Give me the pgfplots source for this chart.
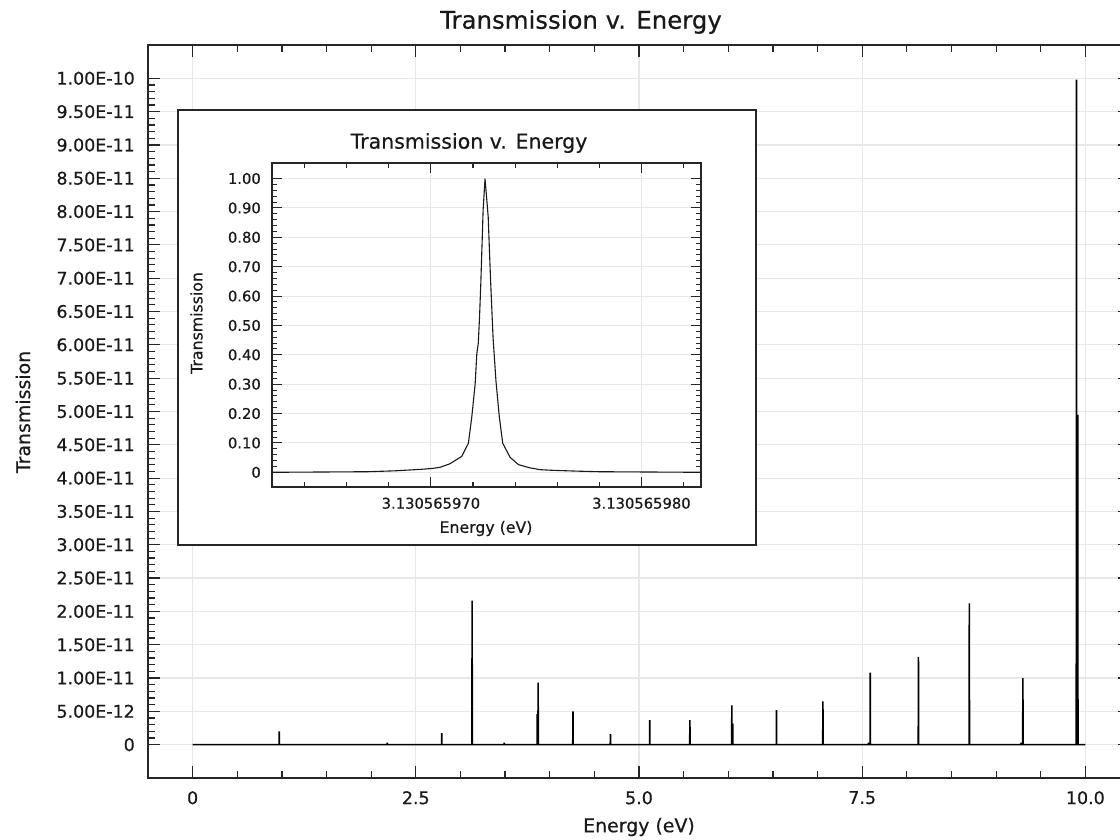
\documentclass[border=0pt]{standalone}
\usepackage{pgfplots}
\usepackage{pgfplotstable}
\pgfplotsset{compat=1.18}
\usepackage{fontspec}
\setmainfont[FakeBold=0.5]{DejaVu Sans}

% Transmission spectrum over the full energy window (resonance needles on a zero baseline)
\pgfplotstableread{
E h
0 0
0.968 0
0.970 2.0e-12
0.972 0
2.178 0
2.180 3e-13
2.182 0
2.788 0
2.790 1.75e-12
2.792 0
3.1286 0
3.1306 2.16e-11
3.1326 0
3.488 0
3.490 3e-13
3.492 0
3.858 0
3.860 4.6e-12
3.862 0
3.868 0
3.870 9.33e-12
3.872 0
4.258 0
4.260 4.98e-12
4.262 0
4.678 0
4.680 1.6e-12
4.682 0
5.118 0
5.120 3.7e-12
5.122 0
5.568 0
5.570 3.7e-12
5.572 0
6.038 0
6.040 5.88e-12
6.042 0
6.048 0
6.050 3.14e-12
6.052 0
6.538 0
6.540 5.19e-12
6.542 0
7.058 0
7.060 6.49e-12
7.062 0
7.568 0
7.570 3e-13
7.572 0
7.588 0
7.590 1.082e-11
7.592 0
8.128 0
8.130 1.317e-11
8.132 0
8.698 0
8.700 2.121e-11
8.702 0
9.278 0
9.280 3e-13
9.282 0
9.298 0
9.300 9.98e-12
9.302 0
9.898 0
9.900 9.98e-11
9.902 0
9.913 0
9.915 4.95e-11
9.917 0
10 0
}\spectrum

% Zoom on the 3.1306 eV resonance; x is the offset from 3.130565970 eV in units of 1e-9 eV
\pgfplotstableread{
dE T
-7.55 0.000
-3.00 0.002
-1.72 0.005
-0.49 0.010
0.04 0.013
0.43 0.017
0.90 0.029
1.46 0.054
1.78 0.099
1.94 0.188
2.10 0.300
2.18 0.404
2.25 0.440
2.31 0.530
2.37 0.644
2.48 0.894
2.57 1.000
2.72 0.870
2.83 0.660
2.95 0.460
3.09 0.310
3.25 0.188
3.41 0.099
3.76 0.051
4.16 0.026
4.71 0.015
5.19 0.009
5.69 0.007
6.92 0.004
8.00 0.002
12.83 0.000
}\resonance

\begin{document}
\begin{tikzpicture}[x=1bp,y=1bp]
\useasboundingbox (0,0) rectangle (1120,840);

\begin{axis}[
  at={(148bp,62bp)}, anchor=south west, scale only axis,
  width=982bp, height=733bp,
  xmin=-0.5, xmax=10.5, ymin=-5e-12, ymax=1.05e-10,
  xtick={0,2.5,5,7.5,10}, xticklabels={0,2.5,5.0,7.5,10.0},
  minor x tick num=4,
  ytick={0,5e-12,1e-11,1.5e-11,2e-11,2.5e-11,3e-11,3.5e-11,4e-11,4.5e-11,5e-11,5.5e-11,6e-11,6.5e-11,7e-11,7.5e-11,8e-11,8.5e-11,9e-11,9.5e-11,1e-10},
  yticklabels={0,5.00E-12,1.00E-11,1.50E-11,2.00E-11,2.50E-11,3.00E-11,3.50E-11,4.00E-11,4.50E-11,5.00E-11,5.50E-11,6.00E-11,6.50E-11,7.00E-11,7.50E-11,8.00E-11,8.50E-11,9.00E-11,9.50E-11,1.00E-10},
  minor y tick num=4,
  scaled x ticks=false, scaled y ticks=false,
  grid=major, major grid style={draw=black!9, line width=1.2bp},
  axis line style={draw=black!85, line width=1.6bp},
  tick align=inside,
  major tick length=12bp, minor tick length=7bp,
  tick style={draw=black!85, line width=1.2bp},
  tick label style={font=\fontsize{17.5}{20}\selectfont, text=black!90},
  yticklabel style={inner sep=0pt, xshift=-13bp},
  xticklabel style={inner sep=0pt, yshift=-13bp},
]
\addplot[black, line width=1.6bp, line join=bevel, mark=none] table[x=E, y=h] {\spectrum};
\end{axis}

\node[font=\fontsize{24.5}{28}\selectfont, text=black!90] at (581,818) {Transmission v. Energy};
\node[font=\fontsize{19}{22}\selectfont, text=black!90] at (639,13) {Energy (eV)};
\node[font=\fontsize{19}{22}\selectfont, text=black!90, rotate=90] at (23,428) {Transmission};

% inset panel
\draw[fill=white, draw=black!85, line width=2bp] (178,295) rectangle (756,730);

\begin{axis}[
  at={(272bp,353bp)}, anchor=south west, scale only axis,
  width=429bp, height=324bp,
  xmin=-7.55, xmax=12.83, ymin=-0.05, ymax=1.053,
  xtick={0,10}, xticklabels={3.130565970,3.130565980},
  minor xtick={-6,-4,-2,2,4,6,8,12},
  ytick={0,0.1,0.2,0.3,0.4,0.5,0.6,0.7,0.8,0.9,1.0},
  yticklabels={0,0.10,0.20,0.30,0.40,0.50,0.60,0.70,0.80,0.90,1.00},
  minor y tick num=4,
  scaled x ticks=false, scaled y ticks=false,
  grid=major, major grid style={draw=black!9, line width=1.1bp},
  axis line style={draw=black!85, line width=1.4bp},
  tick align=inside,
  major tick length=10bp, minor tick length=5bp,
  tick style={draw=black!85, line width=1.1bp},
  tick label style={font=\fontsize{14.8}{17}\selectfont, text=black!90},
  yticklabel style={inner sep=0pt, xshift=-11bp},
  xticklabel style={inner sep=0pt, yshift=-10.5bp},
]
\addplot[black!90, line width=1.1bp, mark=none] table[x=dE, y=T] {\resonance};
\end{axis}

\node[font=\fontsize{20.6}{24}\selectfont, text=black!90] at (469,697) {Transmission v. Energy};
\node[font=\fontsize{15.8}{18}\selectfont, text=black!90] at (486,311.5) {Energy (eV)};
\node[font=\fontsize{15.8}{18}\selectfont, text=black!90, rotate=90] at (196.5,517) {Transmission};
\end{tikzpicture}
\end{document}
